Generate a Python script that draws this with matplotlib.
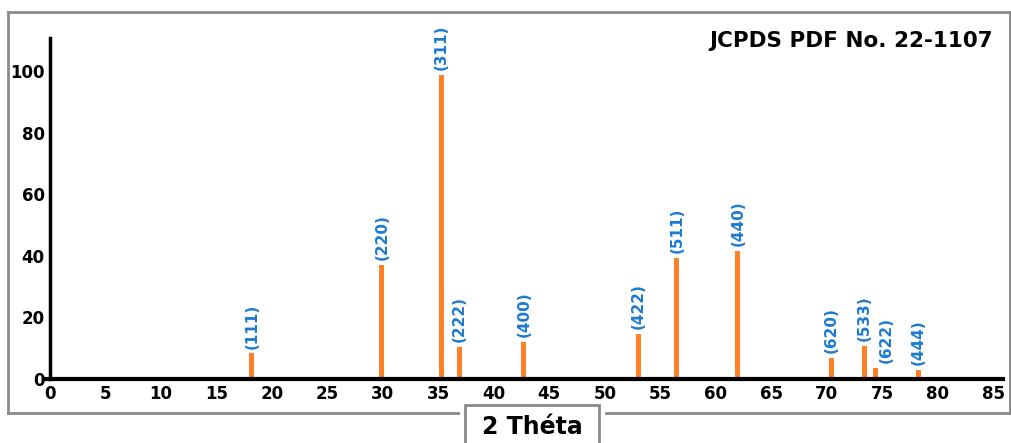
import matplotlib
matplotlib.use("Agg")
import matplotlib.pyplot as plt
from matplotlib.lines import Line2D
from matplotlib.patches import Rectangle

# JCPDS 22-1107 reference lines
hkl = ["(111)", "(220)", "(311)", "(222)", "(400)", "(422)",
       "(511)", "(440)", "(620)", "(533)", "(622)", "(444)"]
two_theta = [18.2, 29.9, 35.3, 36.9, 42.7, 53.0, 56.5, 62.0, 70.4, 73.4, 74.4, 78.3]
intensity = [8.4, 37, 98.7, 10.4, 12, 14.6, 39.3, 41.6, 6.8, 10.7, 3.6, 2.9]
label_dx = [0, 0, 0, 0, 0, 0, 0, 0, 0, 0, 1.0, 0]
xticks = list(range(0, 90, 5))
yticks = [0, 20, 40, 60, 80, 100]

plt.rcParams["font.family"] = ["DejaVu Sans"]
plt.rcParams["font.weight"] = "bold"

W, H = 1012, 443
fig = plt.figure(figsize=(W / 100, H / 100), dpi=100)
ax = fig.add_axes([44 / W, (H - 379) / H, (1003 - 44) / W, (379 - 38) / H])

orange = "#ff7f27"
blue = "#1b7ad0"

ax.bar(two_theta, intensity, width=0.45, color=orange, zorder=2)
for x, y, lab, dx in zip(two_theta, intensity, hkl, label_dx):
    ax.text(x + dx, y + 1.5, lab, rotation=90, ha="center", va="bottom",
            color=blue, fontsize=11, fontweight="bold")

ax.set_xlim(-0.55, 85.9)
ax.set_ylim(0, 110.7)
ax.set_xticks(xticks)
ax.set_yticks(yticks)
ax.tick_params(length=0, labelsize=12, pad=4)

for s in ["top", "right"]:
    ax.spines[s].set_visible(False)
ax.spines["left"].set_position(("data", 0))
ax.spines["left"].set_linewidth(2.5)
ax.spines["bottom"].set_linewidth(3)
ax.patch.set_alpha(0)

fig.text(993 / W, 1 - 41 / H, "JCPDS PDF No. 22-1107", ha="right", va="center",
         fontsize=15.5, fontweight="bold")

# outer grey frame with gap for the x label box
grey = "#8a8a8a"
fx0, fx1 = 8 / W, 1010 / W
fy0, fy1 = 1 - 413 / H, 1 - 12 / H
segs = [([fx0, fx1], [fy1, fy1]), ([fx0, fx0], [fy0, fy1]), ([fx1, fx1], [fy0, fy1]),
        ([fx0, 458 / W], [fy0, fy0]), ([606 / W, fx1], [fy0, fy0])]
for xs, ys in segs:
    fig.add_artist(Line2D(xs, ys, color=grey, lw=2, transform=fig.transFigure))

fig.add_artist(Rectangle((465 / W, -5 / H), (599 - 465) / W, (443 - 405 + 5) / H,
                         transform=fig.transFigure, facecolor="white",
                         edgecolor=grey, lw=2))
fig.text(532 / W, 1 - 427 / H, "2 Théta", ha="center", va="center",
         fontsize=17, fontweight="bold")

fig.savefig("out.png", dpi=100)
